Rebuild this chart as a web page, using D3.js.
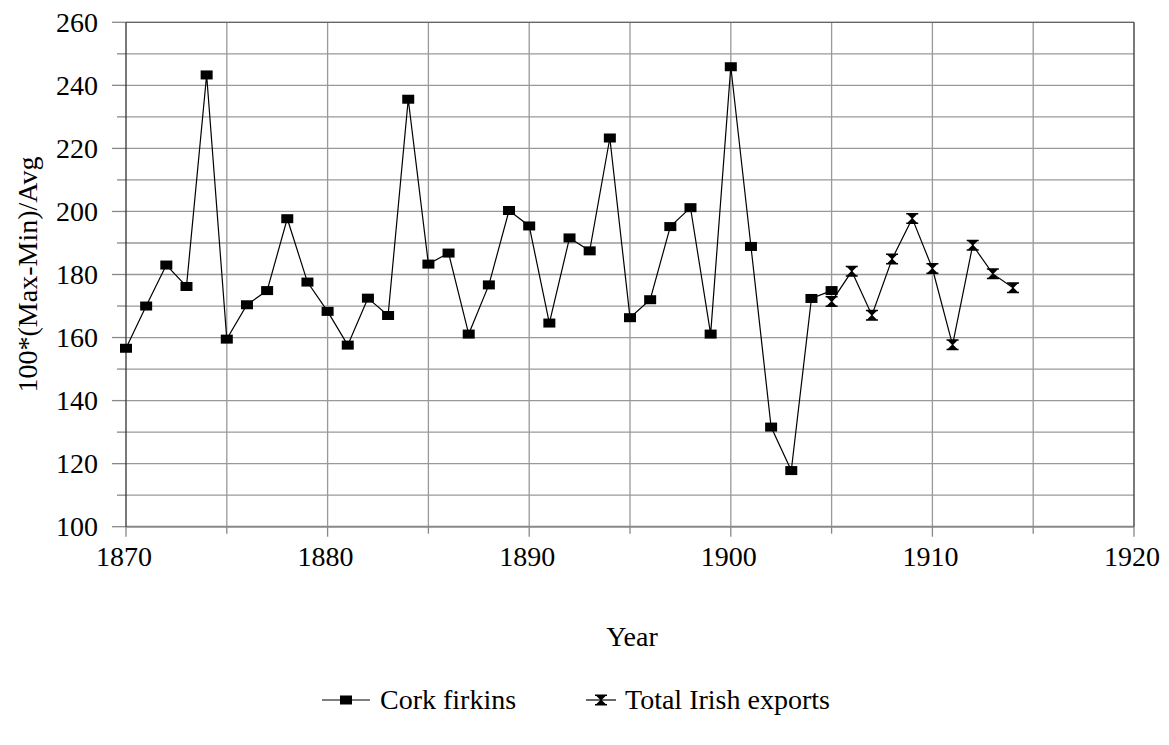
<!DOCTYPE html>
<html>
<head>
<meta charset="utf-8">
<script src="https://cdn.jsdelivr.net/npm/d3@7"></script>
<style>
  html, body { margin: 0; padding: 0; background: #fff; }
  svg { display: block; }
</style>
</head>
<body>
<svg id="chart" width="1169" height="745"></svg>
<script>
// ---- data ----
const corkYears = [1870,1871,1872,1873,1874,1875,1876,1877,1878,1879,1880,1881,1882,1883,1884,1885,1886,1887,1888,1889,1890,1891,1892,1893,1894,1895,1896,1897,1898,1899,1900,1901,1902,1903,1904,1905];
const corkValues = [156.6,170.0,183.0,176.2,243.3,159.5,170.4,174.9,197.7,177.6,168.3,157.6,172.5,167.0,235.6,183.3,186.8,161.1,176.7,200.3,195.4,164.6,191.6,187.5,223.3,166.3,172.0,195.2,201.2,161.1,245.9,188.9,131.6,117.8,172.4,174.9];
const exportYears = [1905,1906,1907,1908,1909,1910,1911,1912,1913,1914];
const exportValues = [171.4,181.0,167.1,184.9,197.8,181.9,157.7,189.3,180.2,175.8];
const xTickLabels = [1870,1880,1890,1900,1910,1920];
const yTickLabels = [100,120,140,160,180,200,220,240,260];
const seriesNames = ["Cork firkins","Total Irish exports"];
const xTitle = "Year";
const yTitle = "100*(Max-Min)/Avg";

// ---- layout ----
const svg = d3.select("#chart");
const FONT = "'Liberation Serif', 'Times New Roman', Times, 'DejaVu Serif', serif";
const L = 126, R = 1134, T = 22.3, B = 526.7;
const x = d3.scaleLinear().domain([1870,1920]).range([L,R]);
const y = d3.scaleLinear().domain([100,260]).range([B,T]);
const FS = 28;

const txt = (sel) => sel.attr("font-family", FONT).attr("font-size", FS).attr("fill", "#000");

// gridlines
const g = svg.append("g");
g.selectAll("line.hg").data(d3.range(110,261,10)).enter().append("line")
  .attr("x1",L).attr("x2",R).attr("y1",d=>y(d)).attr("y2",d=>y(d))
  .attr("stroke","#999").attr("stroke-width",1.3);
g.selectAll("line.vg").data(d3.range(1875,1920,5)).enter().append("line")
  .attr("y1",T).attr("y2",B).attr("x1",d=>x(d)).attr("x2",d=>x(d))
  .attr("stroke","#999").attr("stroke-width",1.3);

// y-axis ticks (major & minor)
g.selectAll("line.yt").data(d3.range(100,261,10)).enter().append("line")
  .attr("x1",d=> (d%20===0) ? L-14 : L-9).attr("x2",L)
  .attr("y1",d=>y(d)).attr("y2",d=>y(d))
  .attr("stroke","#888").attr("stroke-width",1.3);
// x-axis ticks
g.selectAll("line.xt").data(d3.range(1870,1921,5)).enter().append("line")
  .attr("x1",d=>x(d)).attr("x2",d=>x(d))
  .attr("y1",B).attr("y2",d=> (d%10===0) ? B+10 : B+7)
  .attr("stroke","#888").attr("stroke-width",1.3);

// borders
svg.append("line").attr("x1",L).attr("x2",R).attr("y1",T).attr("y2",T).attr("stroke","#666").attr("stroke-width",1.3);
svg.append("line").attr("x1",L).attr("x2",R).attr("y1",B).attr("y2",B).attr("stroke","#888").attr("stroke-width",2);
svg.append("line").attr("x1",L).attr("x2",L).attr("y1",T).attr("y2",B).attr("stroke","#333").attr("stroke-width",1.3);
svg.append("line").attr("x1",R).attr("x2",R).attr("y1",T).attr("y2",B).attr("stroke","#333").attr("stroke-width",1.3);

// tick labels
svg.selectAll("text.yl").data(yTickLabels).enter().append("text")
  .attr("x",L-28).attr("y",d=>y(d)).attr("dy","0.34em")
  .attr("text-anchor","end").call(txt).text(d=>d);
svg.selectAll("text.xl").data(xTickLabels).enter().append("text")
  .attr("x",d=>x(d)-2).attr("y",566)
  .attr("text-anchor","middle").call(txt).text(d=>d);

// axis titles
svg.append("text").attr("x",(L+R)/2 + 2).attr("y",646).attr("text-anchor","middle")
  .call(txt).text(xTitle);
svg.append("text").attr("transform",`translate(37,${(T+B)/2}) rotate(-90)`)
  .attr("text-anchor","middle").call(txt).text(yTitle);

// markers
const sq = sel => sel.append("rect").attr("x",-6).attr("y",-4.5).attr("width",12).attr("height",9).attr("fill","#000");
const hourglass = "M-6,-5.5 L6,-5.5 L6,-4 L4.6,-4 L0.6,0 L4.6,4 L6,4 L6,5.5 L-6,5.5 L-6,4 L-4.6,4 L-0.6,0 L-4.6,-4 L-6,-4 Z";

const line = d3.line().x(d=>x(d[0])).y(d=>y(d[1]));
const corkData = corkYears.map((yr,i)=>[yr,corkValues[i]]);
const expData = exportYears.map((yr,i)=>[yr,exportValues[i]]);

svg.append("path").datum(corkData).attr("d",line).attr("fill","none").attr("stroke","#000").attr("stroke-width",1.2);
svg.append("path").datum(expData).attr("d",line).attr("fill","none").attr("stroke","#000").attr("stroke-width",1.2);

svg.selectAll("g.cm").data(corkData).enter().append("g")
  .attr("transform",d=>`translate(${x(d[0])},${y(d[1])})`).call(sq);
svg.selectAll("path.em").data(expData).enter().append("path")
  .attr("transform",d=>`translate(${x(d[0])},${y(d[1])})`)
  .attr("d",hourglass).attr("fill","#000");

// legend
const legY = 709;
const leg1 = svg.append("g");
leg1.append("line").attr("x1",322).attr("x2",370).attr("y1",legY-9).attr("y2",legY-9).attr("stroke","#000").attr("stroke-width",1.2);
leg1.append("g").attr("transform",`translate(346,${legY-9})`).call(sq);
leg1.append("text").attr("x",380).attr("y",legY).call(txt).text(seriesNames[0]);
const leg2 = svg.append("g");
leg2.append("line").attr("x1",586).attr("x2",616).attr("y1",legY-9).attr("y2",legY-9).attr("stroke","#000").attr("stroke-width",1.2);
leg2.append("path").attr("transform",`translate(601,${legY-9})`).attr("d",hourglass).attr("fill","#000");
leg2.append("text").attr("x",625).attr("y",legY).call(txt).text(seriesNames[1]);
</script>
</body>
</html>
